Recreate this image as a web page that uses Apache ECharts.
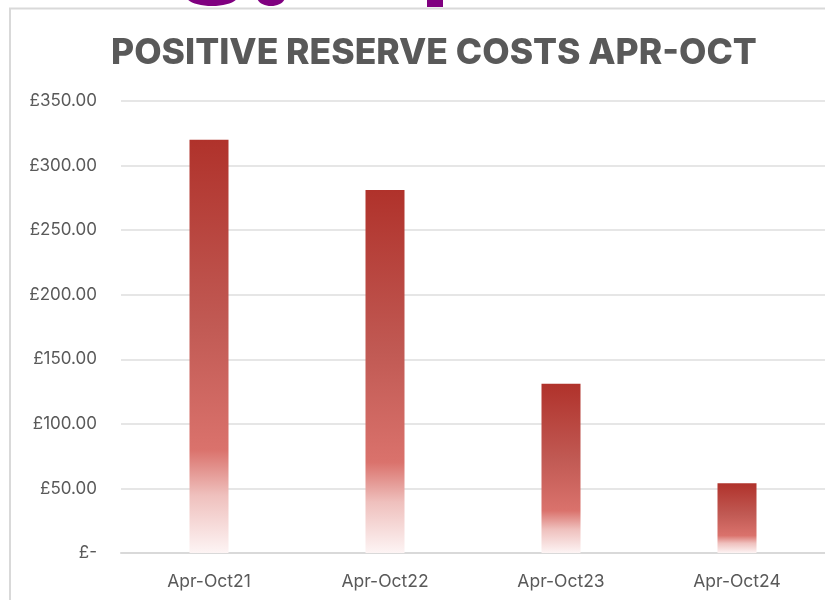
<!DOCTYPE html>
<html lang="en" style="height: 100%">
<head>
  <meta charset="utf-8">
</head>
<body style="height: 100%; margin: 0; background: #fff">
  <div id="container" style="width: 825px; height: 600px"></div>

  <script src="https://cdn.jsdelivr.net/npm/echarts@6/dist/echarts.min.js"></script>

  <script type="text/javascript">
    var categories = ['Apr-Oct21', 'Apr-Oct22', 'Apr-Oct23', 'Apr-Oct24'];
    var costs = [320, 281, 131, 54];
    var axisMax = 350;
    var axisStep = 50;

    var dom = document.getElementById('container');
    var myChart = echarts.init(dom, null, { renderer: 'canvas' });
    var font = 'Inter, "Open Sans", sans-serif';

    // each bar fades from dark red at the top to nearly white at the base
    var barFill = new echarts.graphic.LinearGradient(0, 0, 0, 1, [
      { offset: 0, color: '#b0322b' },
      { offset: 0.45, color: '#c15a54' },
      { offset: 0.75, color: '#da726c' },
      { offset: 0.86, color: '#efc0bd' },
      { offset: 1, color: '#fdf4f4' }
    ]);

    var option = {
      animation: false,
      title: {
        text: 'POSITIVE RESERVE COSTS APR-OCT',
        left: 106,
        top: 30,
        textStyle: {
          fontFamily: font,
          fontWeight: 800,
          fontSize: 35.5,
          color: '#595959'
        }
      },
      graphic: [
        // purple letters cut off at the top edge
        { type: 'ellipse', shape: { cx: 212, cy: -4, rx: 26, ry: 10 }, style: { fill: '#800080' } },
        { type: 'ellipse', shape: { cx: 271, cy: -3, rx: 14, ry: 9 }, style: { fill: '#800080' } },
        { type: 'rect', shape: { x: 427, y: 0, width: 16, height: 7 }, style: { fill: '#800080' } },
        // chart frame
        {
          type: 'polyline',
          shape: { points: [[10, 620], [10, 8.5], [830, 8.5]] },
          style: { stroke: '#d9d9d9', lineWidth: 2, fill: null }
        }
      ],
      grid: {
        left: 121,
        right: 0,
        top: 101,
        bottom: 47,
        containLabel: false
      },
      xAxis: {
        type: 'category',
        data: categories,
        axisTick: { show: false },
        axisLine: { lineStyle: { color: '#d9d9d9', width: 2 } },
        axisLabel: {
          margin: 20,
          fontFamily: font,
          fontSize: 17.5,
          color: '#595959'
        }
      },
      yAxis: {
        type: 'value',
        min: 0,
        max: axisMax,
        interval: axisStep,
        axisLine: { show: false },
        axisTick: { show: false },
        splitLine: { lineStyle: { color: '#dedede', width: 1.5 } },
        axisLabel: {
          margin: 24,
          fontFamily: font,
          fontSize: 17,
          color: '#595959',
          formatter: function (v) {
            return v === 0 ? '£-' : '£' + v.toFixed(2);
          }
        }
      },
      series: [
        {
          type: 'bar',
          data: costs,
          barWidth: 39,
          itemStyle: { color: barFill }
        }
      ]
    };

    myChart.setOption(option);
    window.addEventListener('resize', myChart.resize);
  </script>
</body>
</html>
